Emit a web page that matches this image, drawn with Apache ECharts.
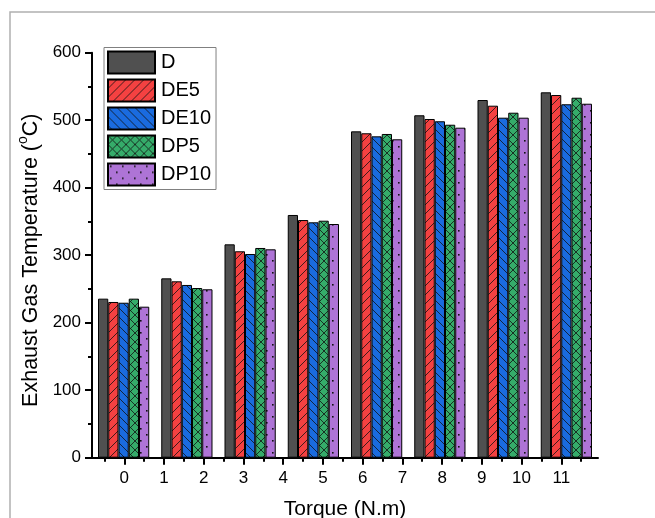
<!DOCTYPE html>
<html>
<head>
<meta charset="utf-8">
<script src="https://cdn.jsdelivr.net/npm/echarts@6/dist/echarts.min.js"></script>
<style>html,body{margin:0;padding:0;background:#fff;}#c{width:655px;height:518px;}</style>
</head>
<body>
<div id="c"></div>
<script>
// ---- data ----
const categories = ['0', '1.57', '3.14', '4.71', '6.29', '7.86', '9.43', '11'];
const seriesNames = ['D', 'DE5', 'DE10', 'DP5', 'DP10'];
const D    = [235.6, 265.7, 316.1, 359.6, 483.5, 507.3, 529.9, 541.3];
const DE5  = [230.7, 261.3, 305.8, 352.1, 480.6, 501.8, 521.5, 537.3];
const DE10 = [229.6, 255.9, 301.8, 348.7, 476.1, 498.4, 503.7, 523.6];
const DP5  = [235.6, 251.4, 310.7, 351.1, 479.6, 493.3, 511.1, 533.3];
const DP10 = [223.7, 249.5, 308.7, 346.2, 471.7, 488.9, 503.7, 524.4];
const xTickLabels = [0, 1, 2, 3, 4, 5, 6, 7, 8, 9, 10, 11];
const xMinorTicks = [-0.5, 0.5, 1.5, 2.5, 3.5, 4.5, 5.5, 6.5, 7.5, 8.5, 9.5, 10.5, 11.5];
const yTicks = [0, 100, 200, 300, 400, 500, 600];

// ---- patterns ----
function makePattern(bg, kind) {
  const s = kind === 'dots' ? 12 : 9;
  const c = document.createElement('canvas');
  c.width = s; c.height = s;
  const ctx = c.getContext('2d');
  ctx.fillStyle = bg; ctx.fillRect(0, 0, s, s);
  ctx.strokeStyle = '#111'; ctx.lineWidth = 0.8; ctx.fillStyle = '#111';
  if (kind === 'fwd' || kind === 'cross') {
    ctx.beginPath();
    for (const k of [-s, 0, s]) { ctx.moveTo(k, s); ctx.lineTo(k + s, 0); }
    ctx.stroke();
  }
  if (kind === 'back' || kind === 'cross') {
    ctx.beginPath();
    for (const k of [-s, 0, s]) { ctx.moveTo(k, 0); ctx.lineTo(k + s, s); }
    ctx.stroke();
  }
  if (kind === 'dots') {
    ctx.fillRect(2, 2, 1.6, 1.6);
    ctx.fillRect(8, 8, 1.6, 1.6);
  }
  return { image: c, repeat: 'repeat' };
}
const fills = [
  '#505050',
  makePattern('#F44141', 'fwd'),
  makePattern('#1A6BDF', 'back'),
  makePattern('#35AC6A', 'cross'),
  makePattern('#AE74D6', 'dots')
];
const dataList = [D, DE5, DE10, DP5, DP10];

const FONT = 'Arial, "Liberation Sans", sans-serif';
const chart = echarts.init(document.getElementById('c'), null, { renderer: 'canvas' });

const series = seriesNames.map((n, i) => ({
  name: n,
  type: 'bar',
  xAxisIndex: 0,
  yAxisIndex: 0,
  data: dataList[i],
  barGap: '0%',
  barCategoryGap: '19%',
  itemStyle: { color: fills[i], borderColor: '#000', borderWidth: 1 },
  emphasis: { disabled: true },
  animation: false
}));

chart.setOption({
  animation: false,
  backgroundColor: '#fff',
  graphic: [{
    type: 'rect', silent: true, z: -1,
    shape: { x: 10, y: 12, width: 700, height: 600 },
    style: { fill: 'none', stroke: '#b0b0b0', lineWidth: 1.5 }
  }],
  grid: { left: 92, right: 57, top: 52.7, bottom: 60.3, containLabel: false, outerBoundsMode: 'none' },
  legend: {
    orient: 'vertical',
    left: 104, top: 47.5,
    itemWidth: 47, itemHeight: 22, itemGap: 4,
    padding: [3, 5, 3, 3],
    borderColor: '#808080', borderWidth: 1,
    icon: 'rect',
    textStyle: { fontFamily: FONT, fontSize: 20, color: '#000', padding: [0, 0, 0, 1] },
    data: seriesNames
  },
  xAxis: [
    {
      type: 'category', data: categories, position: 'bottom',
      axisLine: { show: true, onZero: false, lineStyle: { color: '#000', width: 2 } },
      axisTick: { show: false }, axisLabel: { show: false }, splitLine: { show: false },
      name: 'Torque (N.m)', nameLocation: 'middle', nameGap: 41,
      nameTextStyle: { fontFamily: FONT, fontSize: 21, color: '#000' }
    },
    {
      type: 'value', position: 'bottom', min: -0.813, max: 11.924,
      axisLine: { show: false, onZero: false },
      axisTick: { show: true, length: 7, customValues: xTickLabels, lineStyle: { color: '#000', width: 2 } },
      axisLabel: { show: true, customValues: xTickLabels, margin: 12, fontFamily: FONT, fontSize: 17, color: '#000' },
      splitLine: { show: false }
    },
    {
      type: 'value', position: 'bottom', min: -0.813, max: 11.924,
      axisLine: { show: false, onZero: false },
      axisTick: { show: true, length: 4, customValues: xMinorTicks, lineStyle: { color: '#000', width: 2 } },
      axisLabel: { show: false },
      splitLine: { show: false }
    }
  ],
  yAxis: [{
    type: 'value', min: 0, max: 600, interval: 100,
    axisLine: { show: true, onZero: false, lineStyle: { color: '#000', width: 2 } },
    axisTick: { show: true, length: 7, lineStyle: { color: '#000', width: 2 } },
    minorTick: { show: true, splitNumber: 2, length: 4, lineStyle: { color: '#000', width: 2 } },
    axisLabel: { margin: 11, fontFamily: FONT, fontSize: 17, color: '#000' },
    splitLine: { show: false },
    name: '{t|Exhaust Gas Temperature (}{s|o}{t|C)}',
    nameLocation: 'middle', nameGap: 45, nameRotate: 90,
    nameTextStyle: {
      fontFamily: FONT, fontSize: 21.5, color: '#000',
      padding: [0, 10, 0, 0],
      rich: {
        t: { fontFamily: FONT, fontSize: 21.5, color: '#000', lineHeight: 26, verticalAlign: 'bottom' },
        s: { fontFamily: FONT, fontSize: 14, color: '#000', lineHeight: 26, verticalAlign: 'top' }
      }
    }
  }],
  series: series
});
</script>
</body>
</html>
